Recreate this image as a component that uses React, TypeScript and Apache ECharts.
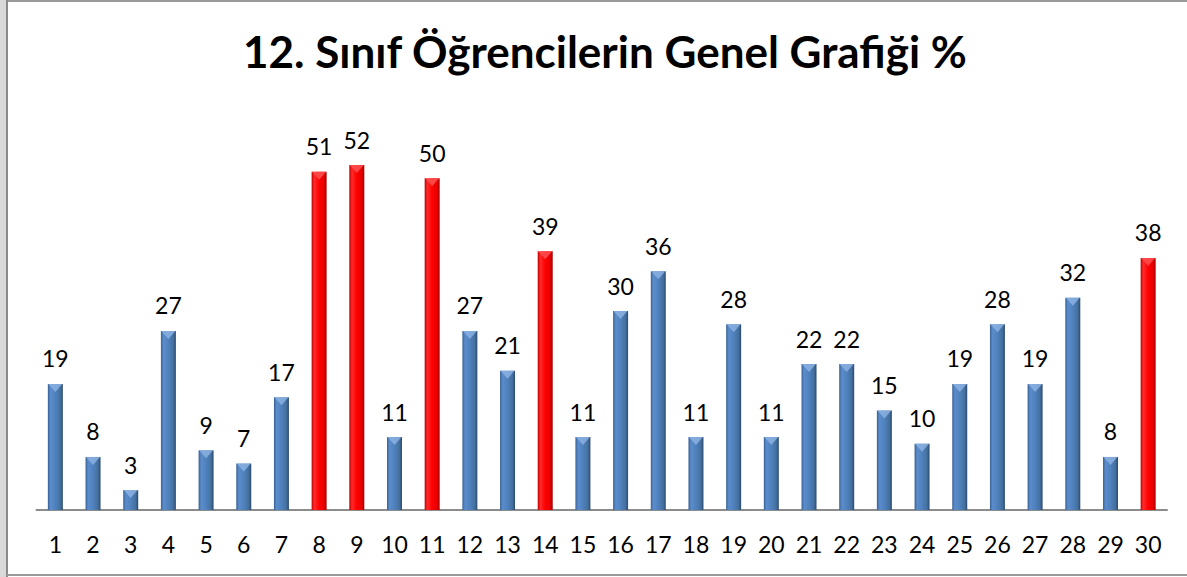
import React, { useEffect, useRef } from "react";
import * as echarts from "echarts";

const categories = ["1","2","3","4","5","6","7","8","9","10","11","12","13","14","15","16","17","18","19","20","21","22","23","24","25","26","27","28","29","30"];
const values = [19, 8, 3, 27, 9, 7, 17, 51, 52, 11, 50, 27, 21, 39, 11, 30, 36, 11, 28, 11, 22, 22, 15, 10, 19, 28, 19, 32, 8, 38];
const highlighted = ["8", "9", "11", "14", "30"];
const titleText = "12. Sınıf Öğrencilerin Genel Grafiği %";

const FONT = "Lato, 'Open Sans', sans-serif";

const blueGrad = new echarts.graphic.LinearGradient(0, 0, 1, 0, [
  { offset: 0, color: "#3a6294" },
  { offset: 0.18, color: "#5b8dcc" },
  { offset: 0.5, color: "#4f81bd" },
  { offset: 0.82, color: "#45719f" },
  { offset: 1, color: "#2c4a70" },
]);
const redGrad = new echarts.graphic.LinearGradient(0, 0, 1, 0, [
  { offset: 0, color: "#c00000" },
  { offset: 0.18, color: "#ff2a2a" },
  { offset: 0.5, color: "#ff0000" },
  { offset: 0.82, color: "#e60000" },
  { offset: 1, color: "#a00000" },
]);

export default function App() {
  const ref = useRef<HTMLDivElement>(null);
  useEffect(() => {
    if (!ref.current) return;
    const chart = echarts.init(ref.current, null, { renderer: "svg" });
    const isHi = (c: string) => highlighted.includes(c);
    chart.setOption({
      animation: false,
      backgroundColor: "#ffffff",
      title: {
        text: titleText,
        left: 238,
        top: 24,
        textStyle: { fontFamily: FONT, fontWeight: "bold", fontSize: 44, color: "#000" },
      },
      graphic: [
        { type: "rect", shape: { x: 0, y: 0, width: 6, height: 577 }, style: { fill: "#d9d9d9" } },
        { type: "line", shape: { x1: 7, y1: 1, x2: 1187, y2: 1 }, style: { stroke: "#9a9a9a", lineWidth: 2 } },
        { type: "line", shape: { x1: 7, y1: 0, x2: 7, y2: 577 }, style: { stroke: "#8a8a8a", lineWidth: 2 } },
        { type: "line", shape: { x1: 7, y1: 575, x2: 1187, y2: 575 }, style: { stroke: "#9a9a9a", lineWidth: 2 } },
      ],
      grid: { left: 36.5, right: 20, top: 112, bottom: 67, containLabel: false },
      xAxis: {
        type: "category",
        data: categories,
        axisLine: { lineStyle: { color: "#8c8c8c", width: 2 } },
        axisTick: { show: false },
        axisLabel: { fontFamily: FONT, fontSize: 23, color: "#000", margin: 22, interval: 0 },
      },
      yAxis: { type: "value", min: 0, max: 60, show: false, splitLine: { show: false } },
      series: [
        {
          type: "bar",
          barWidth: 15,
          data: values.map((v, i) => ({
            value: v,
            itemStyle: { color: isHi(categories[i]) ? redGrad : blueGrad },
          })),
          label: {
            show: true,
            position: "top",
            distance: 14,
            fontFamily: FONT,
            fontSize: 23,
            color: "#000",
          },
        },
        {
          type: "scatter",
          symbol: "triangle",
          symbolRotate: 180,
          symbolSize: [14, 8],
          symbolOffset: [0, 4],
          silent: true,
          z: 3,
          data: values.map((v, i) => ({
            value: v,
            itemStyle: { color: isHi(categories[i]) ? "#ff5555" : "#8fb4e3" },
          })),
        },
      ],
    });
    return () => chart.dispose();
  }, []);
  return <div ref={ref} style={{ position: "absolute", left: 0, top: 0, width: 1187, height: 577 }} />;
}
